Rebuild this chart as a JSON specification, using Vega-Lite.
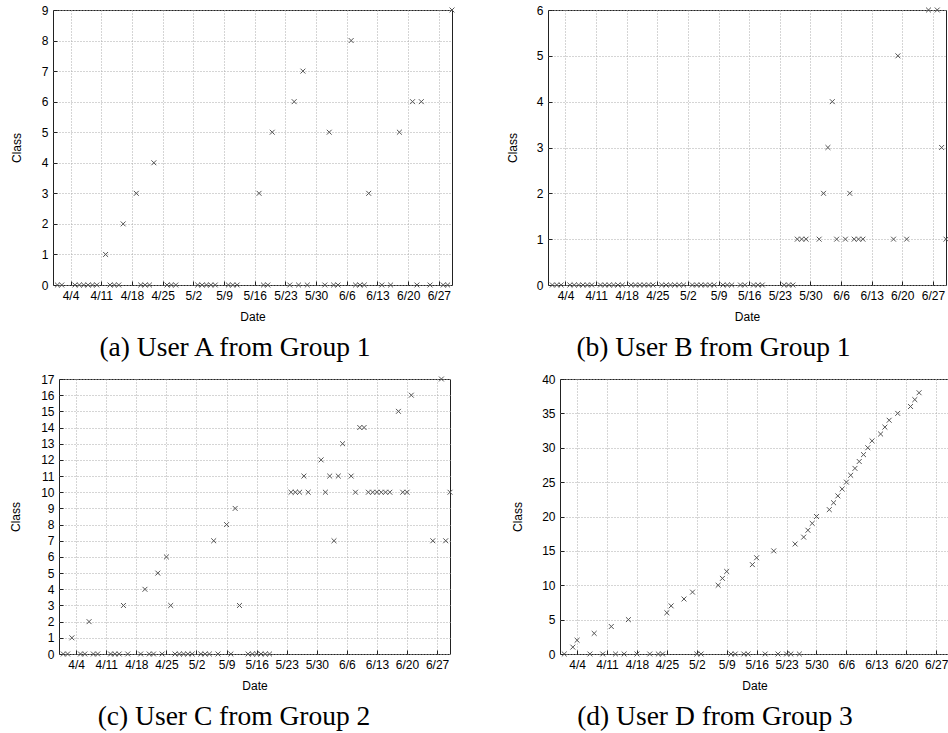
{
  "$schema": "https://vega.github.io/schema/vega-lite/v6.json",
  "padding": {"left": -40, "top": 3, "right": 0, "bottom": 0},
  "background": "white",
  "datasets": {
    "A": [
      {"date":"2010-04-01","class":0},{"date":"2010-04-02","class":0},
      {"date":"2010-04-05","class":0},{"date":"2010-04-06","class":0},{"date":"2010-04-07","class":0},{"date":"2010-04-08","class":0},{"date":"2010-04-09","class":0},{"date":"2010-04-10","class":0},
      {"date":"2010-04-12","class":1},{"date":"2010-04-13","class":0},{"date":"2010-04-14","class":0},{"date":"2010-04-15","class":0},{"date":"2010-04-16","class":2},
      {"date":"2010-04-19","class":3},{"date":"2010-04-20","class":0},{"date":"2010-04-21","class":0},{"date":"2010-04-22","class":0},{"date":"2010-04-23","class":4},
      {"date":"2010-04-26","class":0},{"date":"2010-04-27","class":0},{"date":"2010-04-28","class":0},
      {"date":"2010-05-03","class":0},{"date":"2010-05-04","class":0},{"date":"2010-05-05","class":0},{"date":"2010-05-06","class":0},{"date":"2010-05-07","class":0},
      {"date":"2010-05-10","class":0},{"date":"2010-05-11","class":0},{"date":"2010-05-12","class":0},
      {"date":"2010-05-17","class":3},{"date":"2010-05-18","class":0},{"date":"2010-05-19","class":0},{"date":"2010-05-20","class":5},
      {"date":"2010-05-24","class":0},{"date":"2010-05-25","class":6},{"date":"2010-05-26","class":0},{"date":"2010-05-27","class":7},{"date":"2010-05-28","class":0},
      {"date":"2010-06-01","class":0},{"date":"2010-06-02","class":5},{"date":"2010-06-03","class":0},{"date":"2010-06-04","class":0},
      {"date":"2010-06-07","class":8},{"date":"2010-06-08","class":0},{"date":"2010-06-09","class":0},{"date":"2010-06-10","class":0},{"date":"2010-06-11","class":3},
      {"date":"2010-06-14","class":0},{"date":"2010-06-16","class":0},{"date":"2010-06-18","class":5},
      {"date":"2010-06-21","class":6},{"date":"2010-06-22","class":0},{"date":"2010-06-23","class":6},{"date":"2010-06-25","class":0},
      {"date":"2010-06-28","class":0},{"date":"2010-06-29","class":0},{"date":"2010-06-30","class":9}
    ],
    "B": [
      {"date":"2010-04-01","class":0},{"date":"2010-04-02","class":0},{"date":"2010-04-03","class":0},
      {"date":"2010-04-05","class":0},{"date":"2010-04-06","class":0},{"date":"2010-04-07","class":0},{"date":"2010-04-08","class":0},{"date":"2010-04-09","class":0},{"date":"2010-04-10","class":0},
      {"date":"2010-04-12","class":0},{"date":"2010-04-13","class":0},{"date":"2010-04-14","class":0},{"date":"2010-04-15","class":0},{"date":"2010-04-16","class":0},{"date":"2010-04-17","class":0},
      {"date":"2010-04-19","class":0},{"date":"2010-04-20","class":0},{"date":"2010-04-21","class":0},{"date":"2010-04-22","class":0},{"date":"2010-04-23","class":0},{"date":"2010-04-24","class":0},
      {"date":"2010-04-26","class":0},{"date":"2010-04-27","class":0},{"date":"2010-04-28","class":0},{"date":"2010-04-29","class":0},{"date":"2010-04-30","class":0},{"date":"2010-05-01","class":0},
      {"date":"2010-05-03","class":0},{"date":"2010-05-04","class":0},{"date":"2010-05-05","class":0},{"date":"2010-05-06","class":0},{"date":"2010-05-07","class":0},{"date":"2010-05-08","class":0},
      {"date":"2010-05-10","class":0},{"date":"2010-05-11","class":0},{"date":"2010-05-12","class":0},
      {"date":"2010-05-14","class":0},{"date":"2010-05-15","class":0},
      {"date":"2010-05-17","class":0},{"date":"2010-05-18","class":0},{"date":"2010-05-19","class":0},
      {"date":"2010-05-24","class":0},{"date":"2010-05-25","class":0},{"date":"2010-05-26","class":0},
      {"date":"2010-05-27","class":1},{"date":"2010-05-28","class":1},{"date":"2010-05-29","class":1},
      {"date":"2010-06-01","class":1},{"date":"2010-06-02","class":2},{"date":"2010-06-03","class":3},{"date":"2010-06-04","class":4},{"date":"2010-06-05","class":1},
      {"date":"2010-06-07","class":1},{"date":"2010-06-08","class":2},{"date":"2010-06-09","class":1},{"date":"2010-06-10","class":1},{"date":"2010-06-11","class":1},
      {"date":"2010-06-18","class":1},{"date":"2010-06-19","class":5},{"date":"2010-06-21","class":1},
      {"date":"2010-06-26","class":6},{"date":"2010-06-28","class":6},{"date":"2010-06-29","class":3},{"date":"2010-06-30","class":1}
    ],
    "C": [
      {"date":"2010-04-01","class":0},{"date":"2010-04-02","class":0},{"date":"2010-04-03","class":1},
      {"date":"2010-04-05","class":0},{"date":"2010-04-06","class":0},{"date":"2010-04-07","class":2},{"date":"2010-04-08","class":0},{"date":"2010-04-09","class":0},
      {"date":"2010-04-12","class":0},{"date":"2010-04-13","class":0},{"date":"2010-04-14","class":0},{"date":"2010-04-15","class":3},{"date":"2010-04-16","class":0},
      {"date":"2010-04-19","class":0},{"date":"2010-04-20","class":4},{"date":"2010-04-21","class":0},{"date":"2010-04-22","class":0},{"date":"2010-04-23","class":5},{"date":"2010-04-24","class":0},
      {"date":"2010-04-25","class":6},{"date":"2010-04-26","class":3},{"date":"2010-04-27","class":0},{"date":"2010-04-28","class":0},{"date":"2010-04-29","class":0},{"date":"2010-04-30","class":0},{"date":"2010-05-01","class":0},
      {"date":"2010-05-03","class":0},{"date":"2010-05-04","class":0},{"date":"2010-05-05","class":0},{"date":"2010-05-06","class":7},{"date":"2010-05-07","class":0},
      {"date":"2010-05-09","class":8},{"date":"2010-05-10","class":0},{"date":"2010-05-11","class":9},{"date":"2010-05-12","class":3},
      {"date":"2010-05-14","class":0},{"date":"2010-05-15","class":0},{"date":"2010-05-16","class":0},{"date":"2010-05-17","class":0},{"date":"2010-05-18","class":0},{"date":"2010-05-19","class":0},
      {"date":"2010-05-24","class":10},{"date":"2010-05-25","class":10},{"date":"2010-05-26","class":10},{"date":"2010-05-27","class":11},{"date":"2010-05-28","class":10},
      {"date":"2010-05-31","class":12},{"date":"2010-06-01","class":10},{"date":"2010-06-02","class":11},{"date":"2010-06-03","class":7},{"date":"2010-06-04","class":11},{"date":"2010-06-05","class":13},
      {"date":"2010-06-07","class":11},{"date":"2010-06-08","class":10},{"date":"2010-06-09","class":14},{"date":"2010-06-10","class":14},
      {"date":"2010-06-11","class":10},{"date":"2010-06-12","class":10},{"date":"2010-06-13","class":10},{"date":"2010-06-14","class":10},{"date":"2010-06-15","class":10},{"date":"2010-06-16","class":10},
      {"date":"2010-06-18","class":15},{"date":"2010-06-19","class":10},{"date":"2010-06-20","class":10},{"date":"2010-06-21","class":16},
      {"date":"2010-06-26","class":7},{"date":"2010-06-28","class":17},{"date":"2010-06-29","class":7},{"date":"2010-06-30","class":10}
    ],
    "D": [
      {"date":"2010-04-01","class":0},{"date":"2010-04-03","class":1},{"date":"2010-04-04","class":2},{"date":"2010-04-07","class":0},{"date":"2010-04-08","class":3},
      {"date":"2010-04-10","class":0},{"date":"2010-04-12","class":4},{"date":"2010-04-13","class":0},{"date":"2010-04-15","class":0},{"date":"2010-04-16","class":5},
      {"date":"2010-04-18","class":0},{"date":"2010-04-21","class":0},{"date":"2010-04-23","class":0},{"date":"2010-04-24","class":0},{"date":"2010-04-25","class":6},
      {"date":"2010-04-26","class":7},{"date":"2010-04-29","class":8},{"date":"2010-05-01","class":9},{"date":"2010-05-02","class":0},{"date":"2010-05-03","class":0},
      {"date":"2010-05-07","class":10},{"date":"2010-05-08","class":11},{"date":"2010-05-09","class":12},{"date":"2010-05-10","class":0},{"date":"2010-05-11","class":0},
      {"date":"2010-05-13","class":0},{"date":"2010-05-14","class":0},{"date":"2010-05-15","class":13},{"date":"2010-05-16","class":14},{"date":"2010-05-18","class":0},
      {"date":"2010-05-20","class":15},{"date":"2010-05-21","class":0},{"date":"2010-05-23","class":0},{"date":"2010-05-24","class":0},{"date":"2010-05-25","class":16},
      {"date":"2010-05-26","class":0},{"date":"2010-05-27","class":17},{"date":"2010-05-28","class":18},{"date":"2010-05-29","class":19},{"date":"2010-05-30","class":20},
      {"date":"2010-06-02","class":21},{"date":"2010-06-03","class":22},{"date":"2010-06-04","class":23},{"date":"2010-06-05","class":24},{"date":"2010-06-06","class":25},
      {"date":"2010-06-07","class":26},{"date":"2010-06-08","class":27},{"date":"2010-06-09","class":28},{"date":"2010-06-10","class":29},{"date":"2010-06-11","class":30},
      {"date":"2010-06-12","class":31},{"date":"2010-06-14","class":32},{"date":"2010-06-15","class":33},{"date":"2010-06-16","class":34},{"date":"2010-06-18","class":35},
      {"date":"2010-06-21","class":36},{"date":"2010-06-22","class":37},{"date":"2010-06-23","class":38}
    ],
    "blank": [{"note": ""}]
  },
  "columns": 3,
  "align": "none",
  "spacing": {"row": 10, "column": 48},
  "concat": [
    {
      "data": {"name": "blank"}, "width": 1, "height": 1,
      "view": {"stroke": null},
      "mark": {"type": "text"},
      "encoding": {"text": {"field": "note"}}
    },
    {
      "data": {"name": "A"},
      "width": 399, "height": 275,
      "title": {"text": "(a) User A from Group 1", "dx": -17.5},
      "mark": {"type": "point", "shape": "M-1,-1L1,1M-1,1L1,-1", "filled": false, "stroke": "#555", "strokeWidth": 1, "size": 24, "opacity": 1},
      "encoding": {
        "x": {"field": "date", "type": "temporal", "title": "Date",
          "scale": {"type": "utc", "domain": [{"year":2010,"month":3,"date":31,"utc":true},{"year":2010,"month":6,"date":30,"utc":true}]},
          "axis": {"format": "%-m/%-d", "values": [{"year":2010,"month":4,"date":4,"utc":true},{"year":2010,"month":4,"date":11,"utc":true},{"year":2010,"month":4,"date":18,"utc":true},{"year":2010,"month":4,"date":25,"utc":true},{"year":2010,"month":5,"date":2,"utc":true},{"year":2010,"month":5,"date":9,"utc":true},{"year":2010,"month":5,"date":16,"utc":true},{"year":2010,"month":5,"date":23,"utc":true},{"year":2010,"month":5,"date":30,"utc":true},{"year":2010,"month":6,"date":6,"utc":true},{"year":2010,"month":6,"date":13,"utc":true},{"year":2010,"month":6,"date":20,"utc":true},{"year":2010,"month":6,"date":27,"utc":true}]}},
        "y": {"field": "class", "type": "quantitative", "title": "Class",
          "scale": {"domain": [0, 9], "nice": false},
          "axis": {"values": [0,1,2,3,4,5,6,7,8,9]}}
      }
    },
    {
      "data": {"name": "B"},
      "width": 398, "height": 275,
      "title": {"text": "(b) User B from Group 1", "dx": -33.5},
      "mark": {"type": "point", "shape": "M-1,-1L1,1M-1,1L1,-1", "filled": false, "stroke": "#555", "strokeWidth": 1, "size": 24, "opacity": 1},
      "encoding": {
        "x": {"field": "date", "type": "temporal", "title": "Date",
          "scale": {"type": "utc", "domain": [{"year":2010,"month":3,"date":31,"utc":true},{"year":2010,"month":6,"date":30,"utc":true}]},
          "axis": {"format": "%-m/%-d", "values": [{"year":2010,"month":4,"date":4,"utc":true},{"year":2010,"month":4,"date":11,"utc":true},{"year":2010,"month":4,"date":18,"utc":true},{"year":2010,"month":4,"date":25,"utc":true},{"year":2010,"month":5,"date":2,"utc":true},{"year":2010,"month":5,"date":9,"utc":true},{"year":2010,"month":5,"date":16,"utc":true},{"year":2010,"month":5,"date":23,"utc":true},{"year":2010,"month":5,"date":30,"utc":true},{"year":2010,"month":6,"date":6,"utc":true},{"year":2010,"month":6,"date":13,"utc":true},{"year":2010,"month":6,"date":20,"utc":true},{"year":2010,"month":6,"date":27,"utc":true}]}},
        "y": {"field": "class", "type": "quantitative", "title": "Class",
          "scale": {"domain": [0, 6], "nice": false},
          "axis": {"values": [0,1,2,3,4,5,6], "titlePadding": 17}}
      }
    },
    {
      "data": {"name": "blank"}, "width": 1, "height": 1,
      "view": {"stroke": null},
      "mark": {"type": "text"},
      "encoding": {"text": {"field": "note"}}
    },
    {
      "data": {"name": "C"},
      "width": 391, "height": 275,
      "title": {"text": "(c) User C from Group 2", "dx": -20.5},
      "mark": {"type": "point", "shape": "M-1,-1L1,1M-1,1L1,-1", "filled": false, "stroke": "#555", "strokeWidth": 1, "size": 24, "opacity": 1},
      "encoding": {
        "x": {"field": "date", "type": "temporal", "title": "Date",
          "scale": {"type": "utc", "domain": [{"year":2010,"month":3,"date":31,"utc":true},{"year":2010,"month":6,"date":30,"utc":true}]},
          "axis": {"format": "%-m/%-d", "values": [{"year":2010,"month":4,"date":4,"utc":true},{"year":2010,"month":4,"date":11,"utc":true},{"year":2010,"month":4,"date":18,"utc":true},{"year":2010,"month":4,"date":25,"utc":true},{"year":2010,"month":5,"date":2,"utc":true},{"year":2010,"month":5,"date":9,"utc":true},{"year":2010,"month":5,"date":16,"utc":true},{"year":2010,"month":5,"date":23,"utc":true},{"year":2010,"month":5,"date":30,"utc":true},{"year":2010,"month":6,"date":6,"utc":true},{"year":2010,"month":6,"date":13,"utc":true},{"year":2010,"month":6,"date":20,"utc":true},{"year":2010,"month":6,"date":27,"utc":true}]}},
        "y": {"field": "class", "type": "quantitative", "title": "Class",
          "scale": {"domain": [0, 17], "nice": false},
          "axis": {"values": [0,1,2,3,4,5,6,7,8,9,10,11,12,13,14,15,16,17]}}
      }
    },
    {
      "data": {"name": "D"},
      "width": 389, "height": 275,
      "title": {"text": "(d) User D from Group 3", "dx": -39.5},
      "mark": {"type": "point", "shape": "M-1,-1L1,1M-1,1L1,-1", "filled": false, "stroke": "#555", "strokeWidth": 1, "size": 24, "opacity": 1},
      "encoding": {
        "x": {"field": "date", "type": "temporal", "title": "Date",
          "scale": {"type": "utc", "domain": [{"year":2010,"month":3,"date":31,"utc":true},{"year":2010,"month":6,"date":30,"utc":true}]},
          "axis": {"format": "%-m/%-d", "values": [{"year":2010,"month":4,"date":4,"utc":true},{"year":2010,"month":4,"date":11,"utc":true},{"year":2010,"month":4,"date":18,"utc":true},{"year":2010,"month":4,"date":25,"utc":true},{"year":2010,"month":5,"date":2,"utc":true},{"year":2010,"month":5,"date":9,"utc":true},{"year":2010,"month":5,"date":16,"utc":true},{"year":2010,"month":5,"date":23,"utc":true},{"year":2010,"month":5,"date":30,"utc":true},{"year":2010,"month":6,"date":6,"utc":true},{"year":2010,"month":6,"date":13,"utc":true},{"year":2010,"month":6,"date":20,"utc":true},{"year":2010,"month":6,"date":27,"utc":true}]}},
        "y": {"field": "class", "type": "quantitative", "title": "Class",
          "scale": {"domain": [0, 40], "nice": false},
          "axis": {"values": [0,5,10,15,20,25,30,35,40], "titlePadding": 17}}
      }
    }
  ],
  "config": {
    "view": {"stroke": "#222", "strokeWidth": 1},
    "axis": {
      "domain": false,
      "grid": true, "gridColor": "#aaa", "gridDash": [1, 2], "gridWidth": 1, "gridOpacity": 1,
      "ticks": true, "tickColor": "#222", "tickSize": -4,
      "labelFont": "Liberation Sans", "labelFontSize": 12, "labelColor": "#000", "labelPadding": 9,
      "titleFont": "Liberation Sans", "titleFontSize": 12, "titleFontWeight": "normal", "titleColor": "#000"
    },
    "axisY": {"titlePadding": 18},
    "axisX": {"titlePadding": 10, "labelAngle": 0},
    "title": {"font": "Liberation Serif", "fontSize": 27.5, "fontWeight": "normal", "color": "#000", "orient": "bottom", "anchor": "middle", "offset": 12}
  }
}
